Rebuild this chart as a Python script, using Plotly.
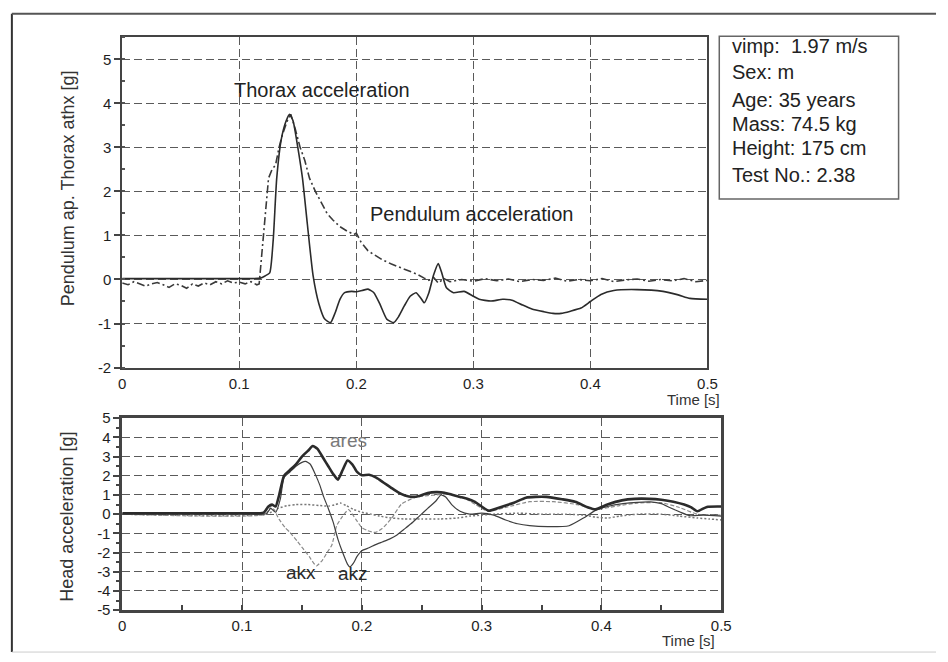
import plotly.graph_objects as go

W, H = 948, 662

# ---------------- Data ----------------
thorax_t = [0, 0.05, 0.1, 0.118, 0.122, 0.126, 0.129, 0.132, 0.136, 0.14, 0.143, 0.146, 0.15,
            0.154, 0.158, 0.163, 0.168, 0.173, 0.178, 0.182, 0.186, 0.19, 0.196, 0.2, 0.205,
            0.21, 0.215, 0.22, 0.226, 0.232, 0.236, 0.241, 0.246, 0.251, 0.255, 0.258, 0.262,
            0.266, 0.27, 0.273, 0.277, 0.283, 0.292, 0.3, 0.305, 0.315, 0.325, 0.333, 0.342,
            0.35, 0.36, 0.368, 0.375, 0.383, 0.392, 0.4, 0.409, 0.42, 0.44, 0.462, 0.475,
            0.485, 0.5]
thorax_v = [0.02, 0.02, 0.02, 0.03, 0.08, 0.15, 0.9, 2.3, 3.2, 3.6, 3.75, 3.6, 3.0,
            2.3, 1.3, 0.1, -0.55, -0.9, -0.98, -0.75, -0.45, -0.3, -0.27, -0.28, -0.25,
            -0.22, -0.3, -0.55, -0.9, -0.98, -0.85, -0.6, -0.38, -0.3, -0.42, -0.53, -0.3,
            0.1, 0.36, 0.15, -0.19, -0.3, -0.27, -0.38, -0.45, -0.49, -0.45, -0.47, -0.58,
            -0.67, -0.73, -0.77, -0.77, -0.72, -0.65, -0.5, -0.34, -0.25, -0.23, -0.27, -0.35,
            -0.43, -0.45]

pend_t = [0, 0.005, 0.01, 0.015, 0.02, 0.025, 0.03, 0.035, 0.04, 0.045, 0.05, 0.055, 0.06,
          0.065, 0.07, 0.075, 0.08, 0.085, 0.09, 0.095, 0.1, 0.105, 0.11, 0.115,
          0.117, 0.119, 0.122, 0.125, 0.128, 0.131, 0.134, 0.137, 0.141, 0.144, 0.148,
          0.152, 0.156, 0.16, 0.165, 0.17, 0.175, 0.18, 0.186, 0.192, 0.198, 0.2, 0.204,
          0.21, 0.216, 0.222, 0.23, 0.238, 0.245, 0.252, 0.258, 0.262, 0.266, 0.27, 0.275,
          0.28, 0.29, 0.3, 0.31, 0.32, 0.33, 0.34, 0.35, 0.36, 0.37, 0.38, 0.39, 0.4, 0.41,
          0.42, 0.43, 0.44, 0.45, 0.46, 0.47, 0.48, 0.49, 0.5]
pend_v = [-0.08, -0.12, -0.05, -0.1, -0.15, -0.1, -0.07, -0.12, -0.18, -0.1, -0.13, -0.2,
          -0.1, -0.15, -0.08, -0.12, -0.05, -0.1, -0.03, -0.08, -0.06, -0.1, -0.05, -0.12,
          -0.1, 0.5, 1.5, 2.3, 2.5, 2.6, 3.0, 3.3, 3.6, 3.75, 3.4,
          3.0, 2.7, 2.3, 2.0, 1.75, 1.5, 1.35, 1.2, 1.1, 1.02, 1.05, 0.85,
          0.65, 0.55, 0.45, 0.35, 0.27, 0.2, 0.12, 0.03, -0.02, 0.05, -0.08, 0.02,
          -0.05, 0.0, -0.04, 0.02, -0.03, 0.01, -0.05, 0.0, -0.02, 0.03, -0.04, 0.0, -0.03,
          0.02, -0.05, -0.01, 0.01, -0.04, 0.0, -0.03, 0.02, -0.05, -0.02]

ares_t = [0, 0.05, 0.1, 0.118, 0.122, 0.125, 0.128, 0.131, 0.135, 0.14, 0.145, 0.15, 0.155,
          0.159, 0.163, 0.168, 0.172, 0.176, 0.18, 0.184, 0.188, 0.192, 0.196, 0.2, 0.206,
          0.212, 0.218, 0.224, 0.23, 0.236, 0.242, 0.248, 0.255, 0.262, 0.269, 0.276, 0.282,
          0.288, 0.294, 0.3, 0.306, 0.315, 0.327, 0.337, 0.345, 0.354, 0.367, 0.378, 0.389,
          0.395, 0.405, 0.417, 0.428, 0.44, 0.45, 0.46, 0.469, 0.475, 0.48, 0.488, 0.5]
ares_v = [0.05, 0.05, 0.05, 0.08, 0.4, 0.5, 0.4, 1.0, 2.0, 2.3, 2.6, 3.0, 3.3,
          3.55, 3.4, 2.9, 2.5, 2.1, 1.8, 2.3, 2.8, 2.6, 2.2, 2.03, 2.05,
          1.9, 1.65, 1.4, 1.15, 0.97, 0.9, 0.95, 1.1, 1.15, 1.12, 1.0, 0.9,
          0.8, 0.65, 0.4, 0.18, 0.35, 0.6, 0.86, 0.9, 0.9, 0.78, 0.65, 0.35,
          0.25, 0.5, 0.72, 0.8, 0.8, 0.75, 0.65, 0.5, 0.35, 0.15, 0.38, 0.4]

akz_t = [0, 0.1, 0.12, 0.124, 0.128, 0.132, 0.135, 0.14, 0.145, 0.15, 0.153, 0.157, 0.161,
         0.165, 0.168, 0.172, 0.176, 0.18, 0.184, 0.188, 0.19, 0.193, 0.196, 0.2, 0.206,
         0.211, 0.217, 0.223, 0.229, 0.235, 0.241, 0.248, 0.255, 0.262, 0.266, 0.27, 0.275,
         0.282, 0.29, 0.3, 0.31, 0.32, 0.33, 0.34, 0.355, 0.373, 0.385, 0.395, 0.405,
         0.418, 0.43, 0.441, 0.45, 0.457, 0.466, 0.474, 0.485, 0.5]
akz_v = [0.0, 0.0, 0.02, 0.3, 0.1, 0.8, 1.9, 2.2, 2.5, 2.7, 2.75, 2.6, 2.1,
         1.5, 0.93, 0.3, -0.4, -1.3, -2.0, -2.6, -2.75, -2.55, -2.2, -1.9, -1.75,
         -1.6, -1.45, -1.3, -1.1, -0.8, -0.5, -0.1, 0.3, 0.7, 1.0, 0.9, 0.5,
         0.15, 0.0, 0.05, -0.05, -0.3, -0.5, -0.6, -0.65, -0.6, -0.2, 0.2, 0.4,
         0.55, 0.62, 0.64, 0.55, 0.35, 0.1, -0.08, -0.05, -0.1]

akx_t = [0, 0.12, 0.124, 0.127, 0.131, 0.136, 0.14, 0.146, 0.151, 0.156, 0.162, 0.167,
         0.171, 0.175, 0.179, 0.184, 0.189, 0.195, 0.2, 0.205, 0.211, 0.217, 0.225, 0.233,
         0.244, 0.255, 0.262, 0.27, 0.285, 0.295, 0.305, 0.32, 0.34, 0.36, 0.38, 0.395,
         0.415, 0.43, 0.45, 0.465, 0.48, 0.5]
akx_v = [0, 0, 0.4, 0.2, -0.27, -0.7, -0.95, -1.4, -1.8, -2.2, -2.7, -2.4,
         -2.0, -1.6, -0.6, -0.1, 0.24, -0.27, -0.7, -0.86, -0.95, -0.75, -0.2, 0.52,
         0.86, 0.97, 1.0, 1.05, 0.85, 0.5, 0.15, 0.35, 0.65, 0.65, 0.5, 0.25,
         0.45, 0.58, 0.6, 0.35, 0.0, -0.05]

aky_t = [0, 0.12, 0.13, 0.138, 0.145, 0.155, 0.165, 0.172, 0.178, 0.182, 0.187, 0.193,
         0.2, 0.208, 0.215, 0.225, 0.235, 0.25, 0.265, 0.28, 0.29, 0.3, 0.31, 0.33, 0.35,
         0.37, 0.385, 0.395, 0.405, 0.415, 0.43, 0.45, 0.465, 0.48, 0.49, 0.5]
aky_v = [0.0, 0.0, 0.3, 0.45, 0.5, 0.5, 0.45, 0.42, 0.5, 0.58, 0.45, 0.25,
         0.1, 0.0, -0.1, -0.2, -0.25, -0.25, -0.25, -0.2, -0.1, -0.05, 0.0, 0.05, 0.0,
         0.0, -0.05, -0.15, -0.2, -0.1, 0.0, 0.0, -0.1, -0.2, -0.25, -0.3]

x_ticks = [0, 0.1, 0.2, 0.3, 0.4, 0.5]
x_labels = ["0", "0.1", "0.2", "0.3", "0.4", "0.5"]
top_y_ticks = [-2, -1, 0, 1, 2, 3, 4, 5]
top_y_labels = ["-2", "-1", "0", "1", "2", "3", "4", "5"]
bot_y_ticks = [-5, -4, -3, -2, -1, 0, 1, 2, 3, 4, 5]
bot_y_labels = ["-5", "-4", "-3", "-2", "-1", "0", "1", "2", "3", "4", "5"]

info_lines = ["vimp:\u00a0 1.97 m/s", "Sex: m", "Age: 35 years", "Mass: 74.5 kg",
              "Height: 175 cm", "Test No.: 2.38"]


def X(px):
    return px / W


def Y(py):
    return 1 - py / H


FONT = "Arial, Liberation Sans, sans-serif"
DARK = "#2b2b2b"
GRID = "#5a5a5a"

fig = go.Figure()

# Top panel
fig.add_trace(go.Scatter(x=pend_t, y=pend_v, mode="lines", xaxis="x", yaxis="y",
                         line=dict(color="#3a3a3a", width=1.6, dash="8px,3px,2px,3px")))
fig.add_trace(go.Scatter(x=thorax_t, y=thorax_v, mode="lines", xaxis="x", yaxis="y",
                         line=dict(color=DARK, width=1.6, shape="spline", smoothing=0.5)))

# Bottom panel
fig.add_trace(go.Scatter(x=aky_t, y=aky_v, mode="lines", xaxis="x2", yaxis="y2",
                         line=dict(color="#777777", width=1.5, dash="2px,2px", shape="spline", smoothing=0.6)))
fig.add_trace(go.Scatter(x=akx_t, y=akx_v, mode="lines", xaxis="x2", yaxis="y2",
                         line=dict(color="#8a8a8a", width=1.2, dash="4px,2px", shape="spline", smoothing=0.5)))
fig.add_trace(go.Scatter(x=akz_t, y=akz_v, mode="lines", xaxis="x2", yaxis="y2",
                         line=dict(color="#3f3f3f", width=1.2, shape="spline", smoothing=0.5)))
fig.add_trace(go.Scatter(x=ares_t, y=ares_v, mode="lines", xaxis="x2", yaxis="y2",
                         line=dict(color=DARK, width=2.6, shape="spline", smoothing=0.5)))

tickfont = dict(family=FONT, size=15, color="#1e1e1e")
griddash = "8px,4px"

fig.update_layout(
    width=W, height=H, margin=dict(l=0, r=0, t=0, b=0),
    paper_bgcolor="white", plot_bgcolor="white", showlegend=False,
    font=dict(family=FONT),
    xaxis=dict(domain=[X(120), X(714)], range=[0, 0.5], anchor="y",
               tickvals=x_ticks, ticktext=x_labels, tickfont=tickfont,
               showgrid=True, gridcolor=GRID, gridwidth=1, griddash=griddash,
               showline=True, linecolor="#444444", linewidth=2, mirror=True,
               ticks="", zeroline=False, ticklabelstandoff=1),
    yaxis=dict(domain=[Y(368), Y(29)], range=[-2, 5.5], anchor="x",
               tickvals=top_y_ticks, ticktext=top_y_labels, tickfont=tickfont,
               showgrid=True, gridcolor=GRID, gridwidth=1, griddash=griddash,
               showline=True, linecolor="#444444", linewidth=2, mirror=True,
               ticks="outside", ticklen=6, tickcolor="#444444", tickwidth=1.5,
               minor=dict(dtick=0.5, ticks="inside", ticklen=3, tickcolor="#555555", showgrid=False),
               zeroline=False),
    xaxis2=dict(domain=[X(120), X(728)], range=[0, 0.5], anchor="y2",
                tickvals=x_ticks, ticktext=x_labels, tickfont=tickfont,
                showgrid=True, gridcolor=GRID, gridwidth=1, griddash=griddash,
                showline=True, linecolor="#444444", linewidth=2.5, mirror=True,
                ticks="inside", ticklen=5, tickcolor="#444444", tickwidth=1.5,
                minor=dict(tickvals=[0.05, 0.15, 0.25, 0.35, 0.45], ticks="inside", ticklen=5,
                           tickcolor="#444444", tickwidth=1.5, showgrid=False),
                zeroline=False, ticklabelstandoff=0),
    yaxis2=dict(domain=[Y(617), Y(420)], range=[-5, 5], anchor="x2",
                tickvals=bot_y_ticks, ticktext=bot_y_labels, tickfont=tickfont,
                showgrid=True, gridcolor=GRID, gridwidth=1, griddash=griddash,
                showline=True, linecolor="#444444", linewidth=2.5, mirror=True,
                ticks="outside", ticklen=6, tickcolor="#444444", tickwidth=1.5,
                minor=dict(dtick=0.5, ticks="outside", ticklen=3, tickcolor="#444444", showgrid=False),
                zeroline=False),
)

annotations = [
    dict(text="Thorax acceleration", x=0.171, y=4.3, xref="x", yref="y", showarrow=False,
         font=dict(size=20, color="#222222"), xanchor="center", yanchor="middle"),
    dict(text="Pendulum acceleration", x=0.2104, y=1.48, xref="x", yref="y", showarrow=False,
         font=dict(size=20, color="#222222"), xanchor="left", yanchor="middle"),
    dict(text="ares", x=0.189, y=3.83, xref="x2", yref="y2", showarrow=False,
         font=dict(size=19, color="#7a7a7a"), xanchor="center", yanchor="middle"),
    dict(text="akx", x=0.149, y=-3.02, xref="x2", yref="y2", showarrow=False,
         font=dict(size=19, color="#2a2a2a"), xanchor="center", yanchor="middle"),
    dict(text="akz", x=0.193, y=-3.07, xref="x2", yref="y2", showarrow=False,
         font=dict(size=19, color="#2a2a2a"), xanchor="center", yanchor="middle"),
    dict(text="Time [s]", x=X(729), y=Y(401), xref="paper", yref="paper", showarrow=False,
         font=dict(size=15, color="#333333"), xanchor="right", yanchor="middle"),
    dict(text="Time [s]", x=X(724), y=Y(648), xref="paper", yref="paper", showarrow=False,
         font=dict(size=15, color="#333333"), xanchor="right", yanchor="middle"),
    dict(text="Pendulum ap. Thorax athx [g]", x=X(65), y=Y(184), xref="paper", yref="paper",
         showarrow=False, textangle=-90, font=dict(size=18, color="#333333"),
         xanchor="center", yanchor="middle"),
    dict(text="Head acceleration [g]", x=X(64), y=Y(521), xref="paper", yref="paper",
         showarrow=False, textangle=-90, font=dict(size=18, color="#333333"),
         xanchor="center", yanchor="middle"),
]
info_y = [38, 65, 93, 118, 143, 170]
for txt, py in zip(info_lines, info_y):
    annotations.append(dict(text=txt, x=X(737), y=Y(py), xref="paper", yref="paper",
                            showarrow=False, font=dict(size=20, color="#222222"),
                            xanchor="left", yanchor="middle"))
fig.update_layout(annotations=annotations)

shapes = [
    dict(type="rect", xref="paper", yref="paper", x0=X(726), x1=X(908), y0=Y(195), y1=Y(28),
         line=dict(color="#666666", width=1.5)),
    dict(type="line", xref="paper", yref="paper", x0=X(8), x1=X(8), y0=Y(5), y1=Y(660),
         line=dict(color="#333333", width=2)),
    dict(type="line", xref="paper", yref="paper", x0=X(8), x1=X(946), y0=Y(5), y1=Y(5),
         line=dict(color="#555555", width=2)),
    dict(type="line", xref="paper", yref="paper", x0=X(8), x1=X(946), y0=Y(660), y1=Y(660),
         line=dict(color="#cccccc", width=1)),
]
fig.update_layout(shapes=shapes)

fig.write_html("out.html")
